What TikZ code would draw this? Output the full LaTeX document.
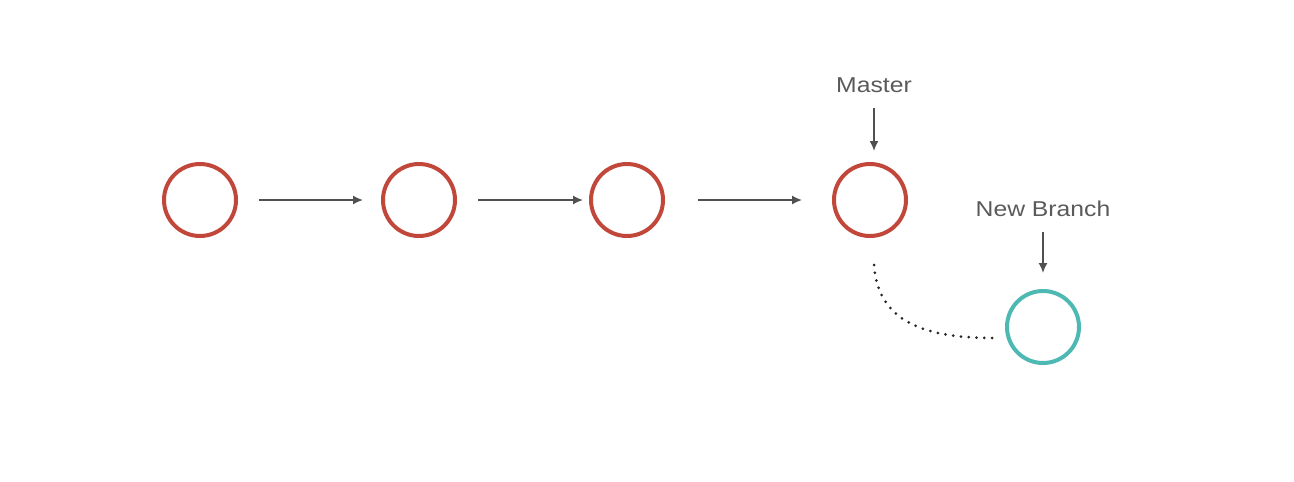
\documentclass[tikz,border=0pt]{standalone}
\usepackage{fontspec}
\setmainfont[FakeStretch=1.15]{Liberation Sans}
\usetikzlibrary{arrows.meta}
\definecolor{commitred}{HTML}{C1473B}
\definecolor{branchteal}{HTML}{4DB9B2}
\definecolor{linegray}{HTML}{505050}
\definecolor{textgray}{HTML}{5A5A5A}
\begin{document}
\begin{tikzpicture}[x=1pt,y=-1pt,
  commit/.style={circle,draw=commitred,line width=4pt,minimum size=72pt,inner sep=0pt},
  branchcommit/.style={circle,draw=branchteal,line width=4pt,minimum size=72pt,inner sep=0pt},
  link/.style={draw=linegray,line width=1.6pt,-{Latex[length=10pt,width=9pt]}},
  lbl/.style={text=textgray,font=\fontsize{21.5}{25}\selectfont,inner sep=0pt}
]
\useasboundingbox (0,0) rectangle (1294,482);
\node[commit] (c1) at (200,200) {};
\node[commit] (c2) at (419,200) {};
\node[commit] (c3) at (627,200) {};
\node[commit] (c4) at (870,200) {};
\node[branchcommit] (b1) at (1043,327) {};
\node[lbl] (master) at (874,85) {Master};
\node[lbl] (newbranch) at (1043,209) {New Branch};
\draw[link,shorten <=21pt,shorten >=18pt] (c1.east) -- (c2.west);
\draw[link,shorten <=21pt,shorten >=6pt] (c2.east) -- (c3.west);
\draw[link,shorten <=33pt,shorten >=30pt] (c3.east) -- (c4.west);
\coordinate (ms) at (874,108);
\coordinate (me) at (874,151);
\draw[link] (ms) -- (me);
\coordinate (ns) at (1043,232);
\coordinate (ne) at (1043,273);
\draw[link] (ns) -- (ne);
\coordinate (ds) at (874,265);
\coordinate (de) at (993,338);
\draw[line width=3pt,dash pattern=on 0pt off 7.8pt,line cap=round,black!85] (ds) .. controls (878,322) and (925,338) .. (de);
\end{tikzpicture}
\end{document}
